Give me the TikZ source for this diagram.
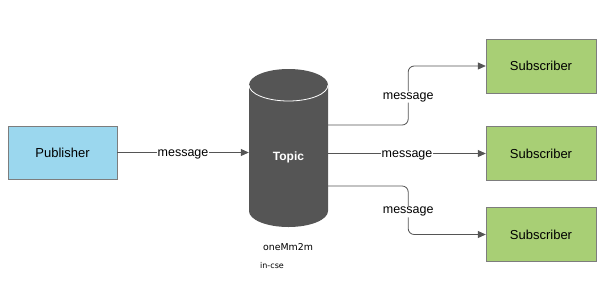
\documentclass[tikz,border=0pt]{standalone}
\usepackage{fontspec}
\setmainfont{Liberation Sans}
\newfontfamily\notefont{DejaVu Sans}
\usetikzlibrary{arrows.meta, positioning, calc}
\definecolor{pubblue}{RGB}{155, 215, 238}
\definecolor{subgreen}{RGB}{168, 207, 117}
\definecolor{topicgray}{RGB}{85, 85, 85}
\definecolor{linegray}{RGB}{85, 85, 85}
\definecolor{edgegray}{RGB}{125, 125, 125}

\begin{document}
\begin{tikzpicture}[x=1pt, y=-1pt,
  pbox/.style={draw=edgegray, fill=pubblue, minimum width=109pt, minimum height=53pt, font=\fontsize{13}{15}\selectfont, inner sep=0pt},
  sbox/.style={draw=edgegray, fill=subgreen, minimum width=110pt, minimum height=54pt, font=\fontsize{13}{15}\selectfont, inner sep=0pt},
  msg/.style={draw=linegray, line width=0.8pt, rounded corners=6pt, -{Triangle[length=8pt, width=7pt]}},
  lbl/.style={fill=white, inner sep=1pt, yshift=-1.5pt, font=\fontsize{12.5}{14}\selectfont}
]
  \useasboundingbox (0,0) rectangle (608,285);

  % topic drum
  \fill[topicgray] (249,85) -- (249,211)
    arc[start angle=180, end angle=360, x radius=39.5pt, y radius=16pt]
    -- (328,85)
    arc[start angle=0, end angle=180, x radius=39.5pt, y radius=16pt] -- cycle;
  \draw[white, line width=0.8pt] (249,85)
    arc[start angle=180, end angle=360, x radius=39.5pt, y radius=16pt];
  \node[minimum width=79pt, minimum height=140pt, inner sep=0pt, text=white, font=\bfseries\fontsize{12}{14}\selectfont] (topic) at (288.5,157) {Topic};
  \node[font=\notefont\fontsize{9.4}{11}\selectfont] (topicname) at (288,247) {oneMm2m};
  \node[font=\notefont\fontsize{8}{10}\selectfont] (topiccse) at (272,266) {in-cse};

  \node[pbox] (pub) at (62.5,152.5) {Publisher};
  \node[sbox] (sub1) at (541,66) {Subscriber};
  \node[sbox] (sub2) at (541,153.5) {Subscriber};
  \node[sbox] (sub3) at (541,234.5) {Subscriber};

  \draw[msg] (pub.east) -- node[lbl] {message} (pub.east -| topic.west);
  \draw[msg] ([yshift=32pt]topic.east) -- ++(80,0) |- node[lbl, pos=0.25] {message} (sub1.west);
  \draw[msg] (topic.east |- sub2.west) -- node[lbl] {message} (sub2.west);
  \draw[msg] ([yshift=-29pt]topic.east) -- ++(80,0) |- node[lbl, pos=0.25] {message} (sub3.west);
\end{tikzpicture}
\end{document}
